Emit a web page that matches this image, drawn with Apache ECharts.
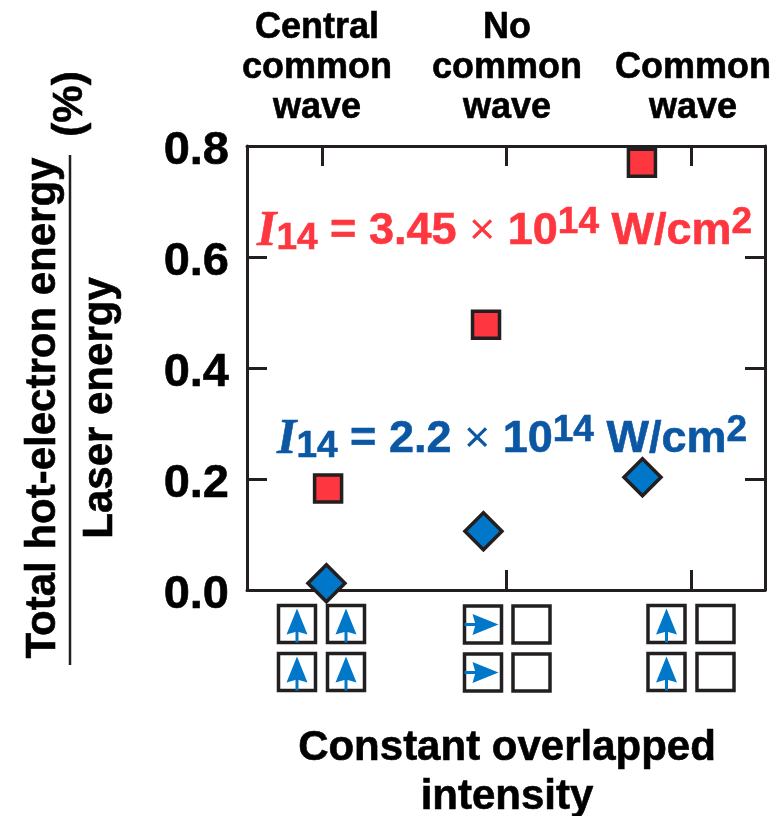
<!DOCTYPE html>
<html><head><meta charset="utf-8">
<style>html,body{margin:0;padding:0;background:#fff}#c{width:784px;height:816px}</style>
<script src="https://cdn.jsdelivr.net/npm/echarts@6/dist/echarts.min.js"></script></head>
<body><div id="c"></div>
<script>
const configPositions = [1, 2, 3];
const configNames = ["Central\ncommon\nwave", "No\ncommon\nwave", "Common\nwave"];
const redPositions = [1.033, 1.889, 2.734];
const redValues = [0.183, 0.478, 0.77];
const bluePositions = [1.024, 1.875, 2.737];
const blueValues = [0.012, 0.106, 0.203];
const yTicks = [0, 0.2, 0.4, 0.6, 0.8];

const FONT = '"Liberation Sans", Arial, sans-serif';
const INK = '#231f20', RED = '#fe363f', DBLUE = '#0b57a4', ABLUE = '#0077c8';
const L = 247, R = 765, T = 146, B = 590;
const tickSpacing = 184.5, firstTick = 322;
const xMin = 1 - (firstTick - L) / tickSpacing, xMax = 1 + (R - firstTick) / tickSpacing;
const HEAVY = 0.6;

function box(x, y, s) {
  return { type: 'rect', shape: { x, y, width: s, height: s }, style: { fill: '#fff', stroke: INK, lineWidth: 3.5 } };
}
function arrow(x, y, s, dir) {
  const c = s / 2;
  const pts = dir === 'up'
    ? [[c, 3], [c + 10.5, 29], [c, 26], [c - 10.5, 29]]
    : [[s - 3, c], [s - 29, c + 10.5], [s - 26, c], [s - 29, c - 10.5]];
  const stem = dir === 'up'
    ? { x1: x + c, y1: y + 24, x2: x + c, y2: y + s }
    : { x1: x, y1: y + c, x2: x + s - 24, y2: y + c };
  return [
    { type: 'line', shape: stem, style: { stroke: ABLUE, lineWidth: 3 } },
    { type: 'polygon', shape: { points: pts.map(p => [x + p[0], y + p[1]]) }, style: { fill: ABLUE } }
  ];
}
const gfx = [];
function cell(x, y, dir) {
  gfx.push(box(x, y, 37));
  if (dir) gfx.push(...arrow(x, y, 37, dir));
}
[[278.5,'up',327.5,'up',0],[464.5,'right',513,null,0.5],[648,'up',697,null,0]].forEach(g => {
  [605.5, 653.5].forEach(y => { cell(g[0], y + g[4], g[1]); cell(g[2], y + g[4], g[3]); });
});
function txt(x, y, text, size, fill, extra) {
  return { type: 'text', x, y, style: Object.assign({ text, font: `bold ${size}px ${FONT}`, fill, stroke: fill, lineWidth: HEAVY, align: 'center', verticalAlign: 'middle', lineHeight: 40 }, extra || {}) };
}
const centers = [317, 507, 693];
configNames.forEach((n, i) => {
  const h = n.split('\n').length;
  gfx.push(txt(centers[i], h === 3 ? 68 : 88, n, 36, '#000', { lineHeight: 40 }));
});
gfx.push(txt(507, 773, 'Constant overlapped\nintensity', 42, '#000', { lineHeight: 49 }));
function rt(color) {
  const b = { fill: color, stroke: color, lineWidth: HEAVY };
  return {
    i: Object.assign({ font: `italic bold 50px "Liberation Serif", serif` }, b),
    s: Object.assign({ font: `bold 37px ${FONT}`, padding: [14, 0, 0, 0] }, b),
    n: Object.assign({ font: `bold 45px ${FONT}` }, b),
    t: { font: `45px ${FONT}`, fill: color },
    u: Object.assign({ font: `bold 37px ${FONT}`, padding: [0, 0, 18, 0] }, b)
  };
}
function eq(x, y, val, color) {
  return { type: 'text', x, y, style: { text: `{i|I}{s|14}{n| = ${val} }{t|\u00d7}{n| 10}{u|14}{n| W/cm}{u|2}`, rich: rt(color), align: 'left', verticalAlign: 'middle', fill: color } };
}
gfx.push(eq(257, 232, '3.45', RED));
gfx.push(eq(277, 440, '2.2', DBLUE));
function vtxt(x, y, text) {
  return { type: 'text', x, y, rotation: Math.PI / 2, style: { text, font: `bold 42px ${FONT}`, fill: '#000', stroke: '#000', lineWidth: HEAVY, align: 'center', verticalAlign: 'middle' } };
}
gfx.push(vtxt(43, 408, 'Total hot-electron energy'));
gfx.push(vtxt(100, 408, 'Laser energy'));
gfx.push(vtxt(70, 104, '(%)'));
gfx.push({ type: 'line', shape: { x1: 70, y1: 155, x2: 70, y2: 665 }, style: { stroke: INK, lineWidth: 2.5 } });

const axisStyle = { show: true, onZero: false, lineStyle: { color: INK, width: 3 } };
const tickStyle = { show: true, inside: true, length: 20, lineStyle: { color: INK, width: 3 } };
const chart = echarts.init(document.getElementById('c'), null, { renderer: 'canvas' });
chart.setOption({
  animation: false,
  grid: { left: L, top: T, width: R - L, height: B - T, containLabel: false },
  xAxis: [
    { type: 'value', position: 'bottom', min: xMin, max: xMax, splitLine: { show: false }, axisLabel: { show: false }, axisLine: axisStyle, axisTick: Object.assign({}, tickStyle, { customValues: configPositions }) },
    { type: 'value', position: 'top', min: xMin, max: xMax, splitLine: { show: false }, axisLabel: { show: false }, axisLine: axisStyle, axisTick: Object.assign({}, tickStyle, { customValues: configPositions }) }
  ],
  yAxis: [
    { type: 'value', position: 'left', min: 0, max: 0.8, interval: 0.2, splitLine: { show: false }, axisLine: axisStyle, axisTick: tickStyle,
      axisLabel: { margin: 18, formatter: v => `{v|${v.toFixed(1)}}`,
        rich: { v: { color: '#000', fontFamily: FONT, fontWeight: 'bold', fontSize: 47, padding: [10, 0, 0, 0], textBorderColor: '#000', textBorderWidth: HEAVY } } } },
    { type: 'value', position: 'right', min: 0, max: 0.8, interval: 0.2, splitLine: { show: false }, axisLine: axisStyle, axisTick: tickStyle, axisLabel: { show: false } }
  ],
  graphic: { elements: gfx },
  series: [
    { name: 'I14 = 3.45', type: 'scatter', xAxisIndex: 0, yAxisIndex: 0, symbol: 'rect', symbolSize: 27, clip: false, data: redPositions.map((x, i) => [x, redValues[i]]), itemStyle: { color: RED, borderColor: INK, borderWidth: 3.5, opacity: 1 }, z: 5 },
    { name: 'I14 = 2.2', type: 'scatter', xAxisIndex: 0, yAxisIndex: 0, symbol: 'diamond', symbolSize: 37, clip: false, data: bluePositions.map((x, i) => [x, blueValues[i]]), itemStyle: { color: ABLUE, borderColor: INK, borderWidth: 3.5, opacity: 1 }, z: 5 }
  ]
});
</script></body></html>
